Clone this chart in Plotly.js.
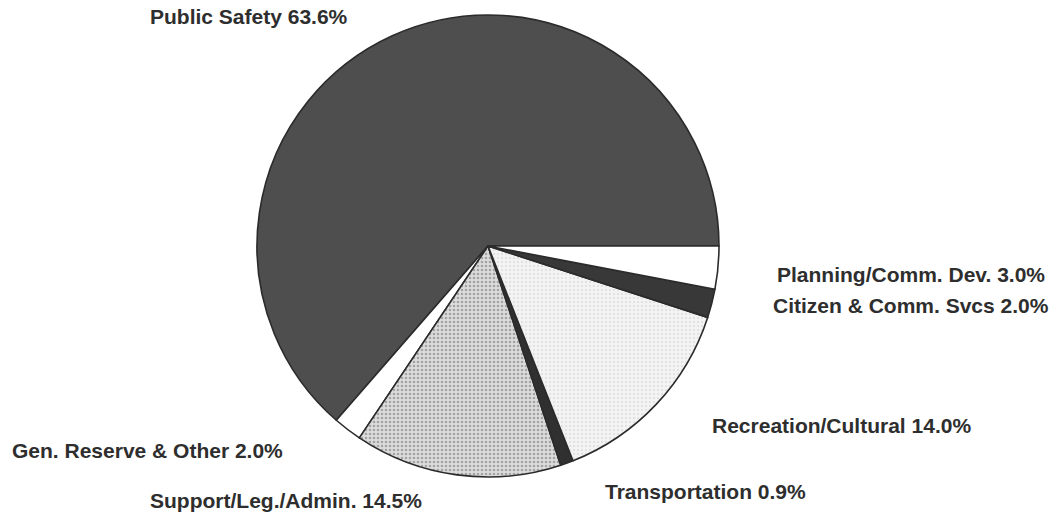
<!DOCTYPE html>
<html>
<head>
<meta charset="utf-8">
<script src="https://cdn.plot.ly/plotly-3.0.1.min.js"></script>
<style>
  html, body { margin: 0; padding: 0; background: #ffffff; }
  #chart { width: 1063px; height: 520px; }
</style>
</head>
<body>
<div id="chart"></div>
<script>
// ---- data ----
var categories = [
  "Public Safety",
  "Gen. Reserve & Other",
  "Support/Leg./Admin.",
  "Transportation",
  "Recreation/Cultural",
  "Citizen & Comm. Svcs",
  "Planning/Comm. Dev."
];
var shares = [63.6, 2.0, 14.5, 0.9, 14.0, 2.0, 3.0];

// ---- styles (not data) ----
var sliceColors   = ["#4e4e4e", "#ffffff", "#dcdcdc", "#303030", "#f3f3f3", "#383838", "#ffffff"];
var patternShapes = ["", "", ".", "", ".", "", ""];
var patternFg     = ["#4e4e4e", "#ffffff", "#6a6a6a", "#303030", "#c4c4c4", "#383838", "#ffffff"];
var patternSize   = [6, 6, 4, 6, 4, 6, 6];
var patternSolid  = [0.3, 0.3, 0.35, 0.3, 0.18, 0.3, 0.3];

// label anchor positions in pixels (layout only)
var W = 1063, H = 520;
var labelPos = [
  {x: 249, y: 16,  anchor: "center"},
  {x: 10,  y: 450, anchor: "left"},
  {x: 148, y: 500, anchor: "left"},
  {x: 603, y: 491, anchor: "left"},
  {x: 710, y: 425, anchor: "left"},
  {x: 1051, y: 305, anchor: "right"},
  {x: 1047, y: 274, anchor: "right"}
];

var cx = 488, cy = 246, R = 231;

// In counterclockwise mode Plotly ends the first slice at `rotation`;
// we want the first slice to start at 3 o'clock and run counterclockwise.
var total = shares.reduce(function (a, b) { return a + b; }, 0);
var startRotation = 90 - 360 * shares[0] / total;

var trace = {
  type: "pie",
  labels: categories,
  values: shares,
  sort: false,
  direction: "counterclockwise",
  rotation: startRotation,
  textinfo: "none",
  hoverinfo: "label+percent",
  showlegend: false,
  domain: {
    x: [(cx - R) / W, (cx + R) / W],
    y: [1 - (cy + R) / H, 1 - (cy - R) / H]
  },
  marker: {
    colors: sliceColors,
    line: {color: "#2b2b2b", width: 1.6},
    pattern: {
      shape: patternShapes,
      bgcolor: sliceColors,
      fgcolor: patternFg,
      size: patternSize,
      solidity: patternSolid,
      fillmode: "overlay"
    }
  }
};

var annotations = categories.map(function (name, i) {
  var p = labelPos[i];
  return {
    text: name + " " + shares[i].toFixed(1) + "%",
    xref: "paper", yref: "paper",
    x: p.x / W, y: 1 - p.y / H,
    xanchor: p.anchor, yanchor: "middle",
    showarrow: false,
    font: {family: "Liberation Sans, Arial, sans-serif", size: 21, color: "#2e2e2e", weight: "bold"}
  };
});

var layout = {
  width: W, height: H,
  margin: {l: 0, r: 0, t: 0, b: 0},
  paper_bgcolor: "#ffffff",
  plot_bgcolor: "#ffffff",
  showlegend: false,
  annotations: annotations
};

Plotly.newPlot("chart", [trace], layout, {displayModeBar: false, staticPlot: true});
</script>
</body>
</html>
